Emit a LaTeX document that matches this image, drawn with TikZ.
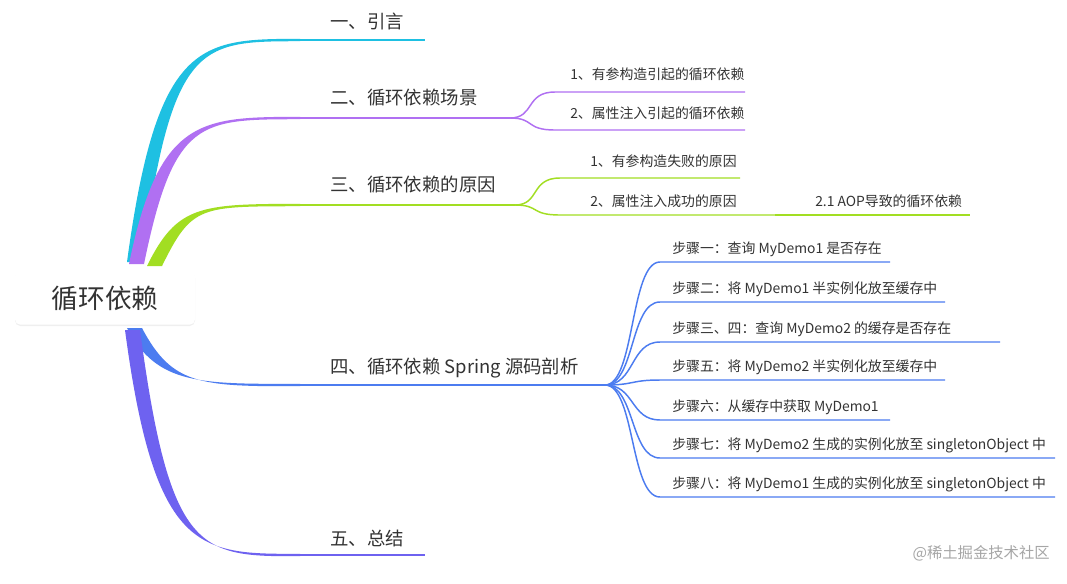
\documentclass[tikz,border=0pt]{standalone}
\usepackage{fontspec}
\setmainfont{Noto Sans CJK SC}
\usetikzlibrary{shadows}
\definecolor{cA}{HTML}{1EC0E2}
\definecolor{cB}{HTML}{B070F2}
\definecolor{cC}{HTML}{A2DE22}
\definecolor{cD}{HTML}{4C7CF0}
\definecolor{cE}{HTML}{6E62F0}
\definecolor{txt}{HTML}{333333}
\tikzset{
 lbl/.style={anchor=west,text=txt,font=\fontsize{13.8pt}{15pt}\selectfont,inner sep=0},
 sub/.style={anchor=west,text=txt,font=\fontsize{10.4pt}{12pt}\selectfont,inner sep=0},
 uline/.style={line width=1.4pt},
 sline/.style={line width=1.1pt}
}
\newcommand{\mybranch}[5]{% color, x0,y0, x1,y1
 \fill[#1] (#2-5,#3) .. controls (#2+25,#5) and (#4-100,#5-1) .. (#4,#5-1.2) -- (#4,#5+1.2) .. controls (#4-100,#5+1.5) and (#2+40,#5) .. (#2+10,#3) -- cycle;}
\begin{document}
\begin{tikzpicture}[x=0.75pt,y=-0.75pt]
\useasboundingbox[fill=white] (0,0) rectangle (1067,583);
% branches
\mybranch{cA}{132}{262}{300}{40}
\mybranch{cB}{134}{264}{300}{118}
\mybranch{cC}{152}{266}{300}{205}
\mybranch{cD}{132}{328}{300}{385}
\mybranch{cE}{130}{330}{300}{555}
\node[fill=white,rounded corners=4pt,drop shadow={opacity=0.12,shadow xshift=0pt,shadow yshift=-1pt},minimum width=135pt,minimum height=40pt,text=txt,font=\fontsize{20pt}{22pt}\selectfont] (root) at (105,298) {循环依赖};
% level 1
\node[lbl] (n1) at (330,21) {一、引言};
\node[lbl] (n2) at (330,98) {二、循环依赖场景};
\node[lbl] (n3) at (330,185) {三、循环依赖的原因};
\node[lbl] (n4) at (330,368) {四、循环依赖 Spring 源码剖析};
\node[lbl] (n5) at (330,538) {五、总结};
\coordinate (a1) at (300,40); \coordinate (a2) at (425,40);
\coordinate (b1) at (300,118); \coordinate (b2) at (510,118);
\coordinate (c1) at (300,205); \coordinate (c2) at (515,205);
\coordinate (d1) at (300,385); \coordinate (d2) at (605,385);
\coordinate (e1) at (300,555); \coordinate (e2) at (425,555);
\draw[uline,cA] (a1)--(a2);
\draw[uline,cB] (b1)--(b2);
\draw[uline,cC] (c1)--(c2);
\draw[uline,cD] (d1)--(d2);
\draw[uline,cE] (e1)--(e2);
% level 2: B
\node[sub] (b21) at (570,74) {1、有参构造引起的循环依赖};
\node[sub] (b22) at (570,113) {2、属性注入引起的循环依赖};
\draw[sline,cB] (b2) .. controls (535,118) and (525,92) .. (555,92) -- (745,92);
\draw[sline,cB] (b2) .. controls (535,118) and (525,130) .. (555,130) -- (745,130);
% C
\node[sub] (c21) at (590,161) {1、有参构造失败的原因};
\node[sub] (c22) at (590,201) {2、属性注入成功的原因};
\node[sub] (c31) at (815,201) {2.1 AOP导致的循环依赖};
\draw[sline,cC] (c2) .. controls (540,205) and (530,178) .. (560,178) -- (740,178);
\draw[sline,cC] (c2) .. controls (540,205) and (530,215) .. (560,215) -- (775,215);
\draw[sline,cC] (775,215) -- (970,215);
% D
\foreach \y/\t/\e [count=\i] in {
 262/{步骤一：查询 MyDemo1 是否存在}/890,
 302/{步骤二：将 MyDemo1 半实例化放至缓存中}/945,
 342/{步骤三、四：查询 MyDemo2 的缓存是否存在}/1000,
 380/{步骤五：将 MyDemo2 半实例化放至缓存中}/945,
 420/{步骤六：从缓存中获取 MyDemo1}/890,
 458/{步骤七：将 MyDemo2 生成的实例化放至 singletonObject 中}/1055,
 497/{步骤八：将 MyDemo1 生成的实例化放至 singletonObject 中}/1055}{
 \node[sub] (s\i) at (672,\y-13) {\t};
 \draw[sline,cD] (d2) .. controls (635,385) and (630,\y) .. (660,\y) -- (\e,\y);
}
\node[anchor=east,text=black!35,font=\fontsize{11.5pt}{13pt}\selectfont,inner sep=0] (wm) at (1050,553) {@稀土掘金技术社区};
\end{tikzpicture}
\end{document}
